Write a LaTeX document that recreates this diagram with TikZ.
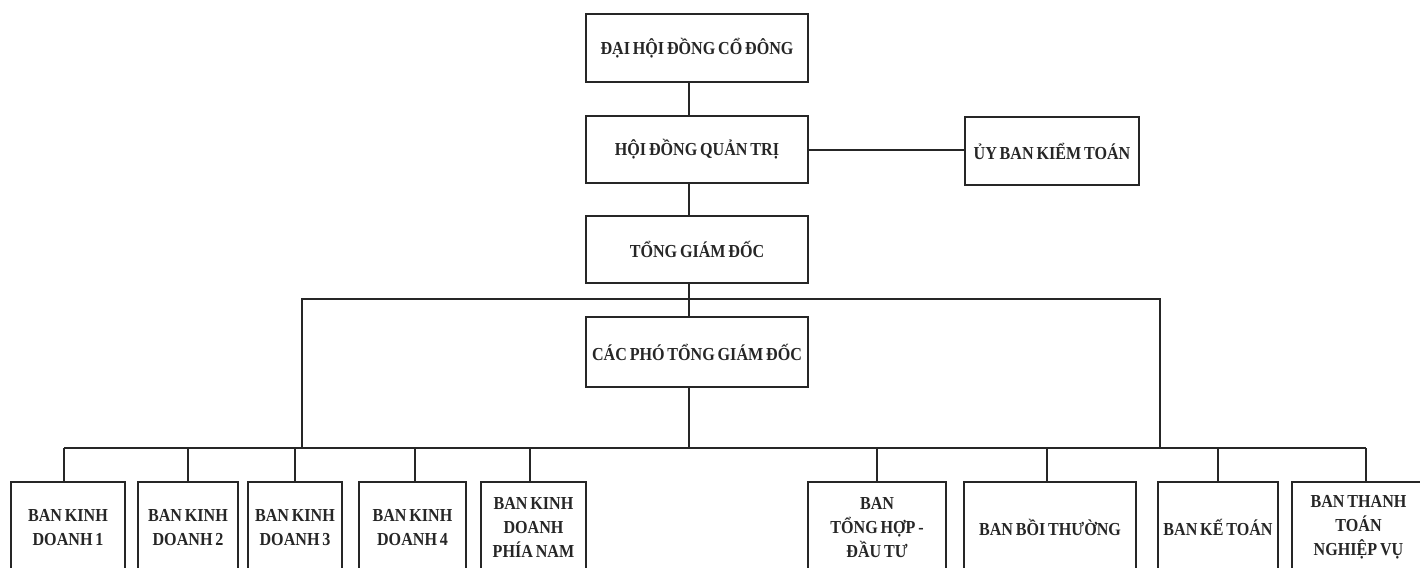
\documentclass[tikz,border=0pt]{standalone}
\usepackage{fontspec}
\setmainfont{Liberation Serif}[FakeStretch=0.88,WordSpace=0.7]
\begin{document}
\begin{tikzpicture}[x=1pt,y=-1pt,
  box/.style={draw=black!85, line width=2.6pt, rectangle, inner sep=0pt, align=center,
    text=black!85, font=\fontsize{18.3}{24}\selectfont\bfseries},
  topbox/.style={box, minimum width=222pt, minimum height=67pt},
  botbox/.style={box, minimum height=91pt},
  conn/.style={draw=black!85, line width=2pt}]
\useasboundingbox (0,0) rectangle (1420,567);
\clip (0,0) rectangle (1420,567);
\fill[white] (0,0) rectangle (1420,567);

\node[topbox, minimum height=68pt] (dh) at (697,48) {ĐẠI HỘI ĐỒNG CỔ ĐÔNG};
\node[topbox] (hd) at (697,149.5) {HỘI ĐỒNG QUẢN TRỊ};
\node[box, minimum width=174pt, minimum height=68pt] (ub) at (1052,151) {ỦY BAN KIỂM TOÁN};
\node[topbox] (tgd) at (697,249.5) {TỔNG GIÁM ĐỐC};
\node[topbox, minimum height=70pt] (cp) at (697,352) {CÁC PHÓ TỔNG GIÁM ĐỐC};

\node[botbox, minimum width=114pt] (b1) at (68,527.5) {BAN KINH\\DOANH 1};
\node[botbox, minimum width=100pt] (b2) at (188,527.5) {BAN KINH\\DOANH 2};
\node[botbox, minimum width=94pt] (b3) at (295,527.5) {BAN KINH\\DOANH 3};
\node[botbox, minimum width=107pt] (b4) at (412.5,527.5) {BAN KINH\\DOANH 4};
\node[botbox, minimum width=105pt] (b5) at (533.5,527.5) {BAN KINH\\DOANH\\PHÍA NAM};
\node[botbox, minimum width=138pt] (b6) at (877,527.5) {BAN\\TỔNG HỢP -\\ĐẦU TƯ};
\node[botbox, minimum width=172pt] (b7) at (1050,527.5) {BAN BỒI THƯỜNG};
\node[botbox, minimum width=120pt] (b8) at (1218,527.5) {BAN KẾ TOÁN};
\node[botbox, minimum width=133pt] (b9) at (1358.5,527.5) {BAN THANH\\TOÁN\\NGHIỆP VỤ};

% spine and buses
\coordinate (topL) at (302,299);
\coordinate (topR) at (1160,299);
\coordinate (botL) at (64,448);
\coordinate (botR) at (1366,448);
\coordinate (spine) at (689,448);

\draw[conn] ([xshift=-8pt]dh.south) -- ([xshift=-8pt]hd.north);
\draw[conn] (hd.east) -- (hd.east -| ub.west);
\draw[conn] ([xshift=-8pt]hd.south) -- ([xshift=-8pt]tgd.north);
\draw[conn] ([xshift=-8pt]tgd.south) -- ([xshift=-8pt]cp.north);
\draw[conn] (topL |- botL) -- (topL) -- (topR) -- (topR |- botL);
\draw[conn] ([xshift=-8pt]cp.south) -- (spine);
\draw[conn] (botL) -- (botR);
\draw[conn] (botL) -- (botL |- b1.north);
\draw[conn] (b2.north) -- (b2.north |- botL);
\draw[conn] (b3.north) -- (b3.north |- botL);
\draw[conn] ([xshift=2.5pt]b4.north) -- ([xshift=2.5pt]b4.north |- botL);
\draw[conn] ([xshift=-3.5pt]b5.north) -- ([xshift=-3.5pt]b5.north |- botL);
\draw[conn] (b6.north) -- (b6.north |- botL);
\draw[conn] ([xshift=-3pt]b7.north) -- ([xshift=-3pt]b7.north |- botL);
\draw[conn] (b8.north) -- (b8.north |- botL);
\draw[conn] (botR) -- (botR |- b9.north);
\end{tikzpicture}
\end{document}
